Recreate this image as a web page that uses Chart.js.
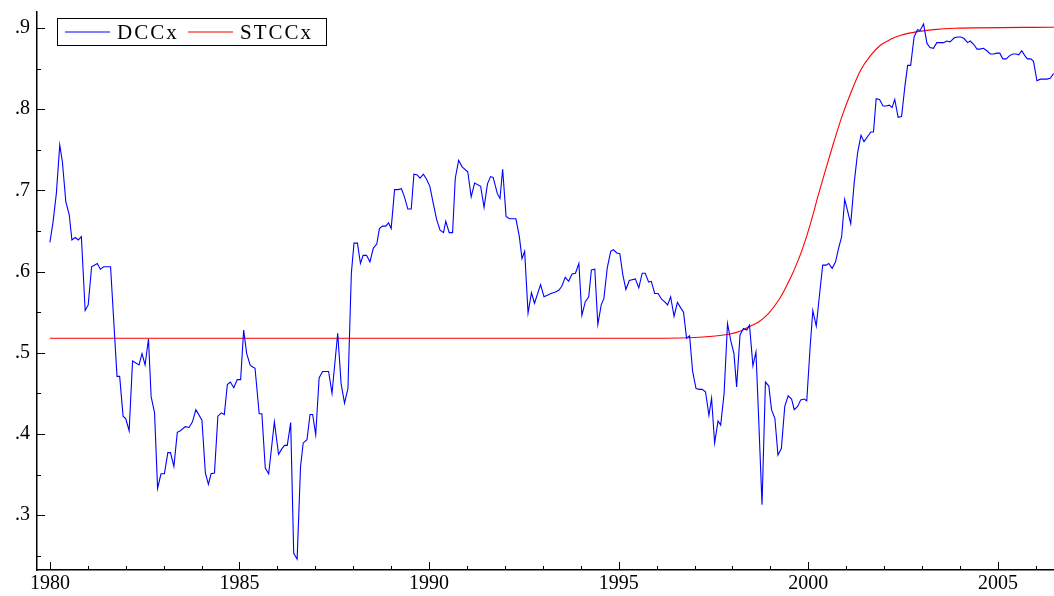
<!DOCTYPE html>
<html lang="en">
<head>
  <meta charset="UTF-8">
  <title>DCCx vs STCCx</title>
  <script src="https://cdn.jsdelivr.net/npm/chart.js@4.4.0/dist/chart.umd.min.js"></script>
  <style>
    body { margin: 0; background: #fff; }
    #wrap { width: 1054px; height: 596px; }
  </style>
</head>
<body>
  <div id="wrap"><canvas id="chart" width="1054" height="596"></canvas></div>

  <script>
    // DCCx series, monthly-ish points (decimal years)
    const dccYears = [
      1980.00, 1980.08, 1980.17, 1980.26, 1980.33, 1980.42, 1980.51, 1980.58, 1980.67, 1980.75,
      1980.83, 1980.93, 1981.01, 1981.10, 1981.25, 1981.33, 1981.42, 1981.60, 1981.77, 1981.84,
      1981.93, 1982.00, 1982.09, 1982.18, 1982.35, 1982.43, 1982.51, 1982.60, 1982.67, 1982.76,
      1982.84, 1982.93, 1983.02, 1983.11, 1983.18, 1983.27, 1983.36, 1983.44, 1983.57, 1983.67,
      1983.76, 1983.85, 1984.01, 1984.10, 1984.18, 1984.25, 1984.34, 1984.43, 1984.52, 1984.60,
      1984.68, 1984.76, 1984.85, 1984.94, 1985.03, 1985.11, 1985.19, 1985.28, 1985.33, 1985.41,
      1985.52, 1985.59, 1985.68, 1985.77, 1985.92, 1986.03, 1986.12, 1986.19, 1986.26, 1986.35,
      1986.43, 1986.52, 1986.61, 1986.68, 1986.78, 1986.86, 1986.93, 1987.01, 1987.10, 1987.19,
      1987.35, 1987.44, 1987.59, 1987.68, 1987.77, 1987.86, 1987.95, 1988.02, 1988.11, 1988.19,
      1988.26, 1988.35, 1988.44, 1988.53, 1988.62, 1988.69, 1988.77, 1988.86, 1988.93, 1989.00,
      1989.09, 1989.18, 1989.27, 1989.35, 1989.44, 1989.53, 1989.60, 1989.69, 1989.76, 1989.85,
      1989.93, 1990.02, 1990.11, 1990.20, 1990.29, 1990.38, 1990.44, 1990.53, 1990.62, 1990.69,
      1990.78, 1990.87, 1991.02, 1991.11, 1991.20, 1991.36, 1991.45, 1991.54, 1991.62, 1991.69,
      1991.80, 1991.87, 1991.94, 1992.03, 1992.12, 1992.29, 1992.38, 1992.45, 1992.52, 1992.61,
      1992.70, 1992.78, 1992.94, 1993.03, 1993.12, 1993.21, 1993.33, 1993.42, 1993.50, 1993.59,
      1993.68, 1993.77, 1993.86, 1993.95, 1994.03, 1994.12, 1994.21, 1994.28, 1994.37, 1994.45,
      1994.54, 1994.61, 1994.70, 1994.79, 1994.86, 1994.95, 1995.03, 1995.11, 1995.19, 1995.28,
      1995.44, 1995.53, 1995.62, 1995.70, 1995.79, 1995.86, 1995.95, 1996.04, 1996.13, 1996.21,
      1996.29, 1996.37, 1996.46, 1996.55, 1996.64, 1996.71, 1996.79, 1996.87, 1996.95, 1997.04,
      1997.13, 1997.20, 1997.29, 1997.38, 1997.45, 1997.53, 1997.62, 1997.69, 1997.78, 1997.87,
      1997.96, 1998.04, 1998.11, 1998.20, 1998.29, 1998.38, 1998.45, 1998.54, 1998.62, 1998.69,
      1998.78, 1998.87, 1998.96, 1999.03, 1999.12, 1999.20, 1999.29, 1999.38, 1999.47, 1999.56,
      1999.63, 1999.72, 1999.80, 1999.89, 1999.96, 2000.05, 2000.12, 2000.21, 2000.30, 2000.38,
      2000.47, 2000.54, 2000.63, 2000.72, 2000.79, 2000.88, 2000.96, 2001.12, 2001.21, 2001.30,
      2001.39, 2001.47, 2001.56, 2001.65, 2001.72, 2001.79, 2001.88, 2001.97, 2002.05, 2002.14,
      2002.21, 2002.28, 2002.37, 2002.46, 2002.55, 2002.62, 2002.70, 2002.79, 2002.88, 2002.95,
      2003.04, 2003.13, 2003.21, 2003.30, 2003.39, 2003.48, 2003.57, 2003.65, 2003.74, 2003.85,
      2003.94, 2004.02, 2004.11, 2004.20, 2004.27, 2004.36, 2004.45, 2004.53, 2004.62, 2004.71,
      2004.80, 2004.89, 2004.97, 2005.05, 2005.13, 2005.22, 2005.31, 2005.40, 2005.48, 2005.55,
      2005.63, 2005.71, 2005.78, 2005.87, 2005.94, 2006.03, 2006.12, 2006.21, 2006.29, 2006.38,
      2006.47
    ];
    const dccValues = [
      .636, .660, .696, .756, .735, .686, .670, .639, .642, .639,
      .643, .552, .559, .606, .610, .603, .606, .606, .471, .471,
      .422, .419, .404, .490, .485, .499, .485, .517, .446, .426,
      .333, .351, .351, .377, .377, .360, .402, .404, .409, .408,
      .415, .430, .417, .352, .338, .351, .352, .422, .426, .424,
      .461, .464, .457, .467, .467, .528, .499, .485, .483, .481,
      .425, .425, .358, .351, .415, .375, .382, .386, .386, .414,
      .253, .246, .360, .389, .393, .424, .424, .399, .469, .477,
      .477, .450, .524, .462, .438, .456, .598, .635, .635, .610,
      .620, .620, .612, .629, .634, .653, .656, .656, .660, .653,
      .701, .701, .702, .692, .677, .677, .720, .719, .715, .720,
      .714, .705, .684, .664, .651, .648, .662, .648, .648, .715,
      .737, .729, .723, .692, .709, .705, .679, .708, .717, .716,
      .696, .690, .726, .668, .665, .665, .643, .616, .625, .549,
      .574, .561, .584, .569, .571, .573, .575, .577, .582, .593,
      .588, .597, .598, .610, .546, .563, .569, .602, .603, .535,
      .559, .567, .605, .625, .627, .623, .622, .596, .578, .589,
      .591, .580, .598, .598, .587, .588, .573, .573, .566, .563,
      .559, .569, .545, .562, .555, .550, .518, .521, .477, .456,
      .455, .455, .452, .423, .444, .389, .416, .411, .450, .536,
      .514, .499, .458, .522, .530, .528, .534, .484, .501, .421,
      .313, .464, .459, .430, .419, .374, .382, .434, .447, .443,
      .430, .434, .442, .443, .441, .508, .552, .533, .573, .608,
      .608, .610, .604, .612, .627, .643, .689, .659, .709, .746,
      .768, .760, .766, .772, .772, .813, .812, .804, .804, .805,
      .802, .812, .790, .791, .829, .854, .854, .889, .898, .897,
      .905, .881, .876, .875, .882, .882, .882, .884, .883, .888,
      .889, .889, .887, .882, .884, .880, .874, .874, .875, .872,
      .868, .868, .869, .869, .862, .862, .866, .868, .868, .867,
      .872, .866, .862, .862, .859, .835, .837, .837, .837, .838,
      .844
    ];

    // STCCx smooth transition curve, read at its bends
    const stccYears = [
      1980.00, 1996.00, 1996.80, 1997.55, 1997.94, 1998.20, 1998.43, 1998.69, 1998.96, 1999.22,
      1999.39, 1999.57, 1999.75, 1999.84, 2000.07, 2000.25, 2000.46, 2000.67, 2000.88, 2001.12,
      2001.38, 2001.64, 2001.91, 2002.17, 2002.44, 2002.88, 2003.31, 2003.87, 2006.50
    ];
    const stccValues = [
      .518, .518, .5185, .5207, .5232, .5265, .532, .538, .549, .565,
      .579, .596, .616, .627, .661, .692, .726, .759, .790, .820,
      .848, .866, .879, .886, .891, .8955, .898, .8996, .901
    ];

    const xTicks = [1980, 1985, 1990, 1995, 2000, 2005];
    const yTicks = [.3, .4, .5, .6, .7, .8, .9];

    const serif = "'Liberation Serif', 'Times New Roman', serif";

    // inward tick marks like the original, plus the boxed legend
    const frame = {
      id: 'frame',
      afterDraw(chart) {
        const ctx = chart.ctx;
        const xs = chart.scales.x, ys = chart.scales.y;
        const left = chart.chartArea.left, bottom = chart.chartArea.bottom;
        ctx.save();
        ctx.strokeStyle = '#000';
        ctx.lineWidth = 1;
        for (let yr = 1980; yr <= 2006; yr++) {
          const px = Math.round(xs.getPixelForValue(yr)) + 0.5;
          const len = yr % 5 === 0 ? 8 : 4;
          ctx.beginPath(); ctx.moveTo(px, bottom); ctx.lineTo(px, bottom - len); ctx.stroke();
        }
        for (let k = 0; k * 0.05 + 0.25 <= ys.max; k++) {
          const v = k * 0.05 + 0.25;
          if (v < ys.min) continue;
          const py = Math.round(ys.getPixelForValue(v)) + 0.5;
          const len = k % 2 === 1 ? 8 : 4;
          ctx.beginPath(); ctx.moveTo(left, py); ctx.lineTo(left + len, py); ctx.stroke();
        }

        // legend box
        ctx.fillStyle = '#fff';
        ctx.fillRect(57.5, 18.5, 269, 27);
        ctx.strokeRect(57.5, 18.5, 269, 27);
        ctx.font = '21px ' + serif;
        ctx.letterSpacing = '2px';
        ctx.textBaseline = 'middle';
        const itemX = [65, 188];
        chart.data.datasets.forEach((ds, i) => {
          const x = itemX[i];
          ctx.strokeStyle = ds.borderColor;
          ctx.lineWidth = 1.2;
          ctx.beginPath(); ctx.moveTo(x, 32); ctx.lineTo(x + 45, 32); ctx.stroke();
          ctx.fillStyle = '#000';
          ctx.fillText(ds.label, x + 52, 33);
        });
        ctx.restore();
      }
    };

    const pts = (xsArr, ysArr) => xsArr.map((x, i) => ({ x, y: ysArr[i] }));
    const noPad = s => { s.paddingTop = 0; s.paddingBottom = 0; s.paddingLeft = 0; s.paddingRight = 0; };

    new Chart(document.getElementById('chart').getContext('2d'), {
      type: 'line',
      data: {
        datasets: [
          { label: 'DCCx', data: pts(dccYears, dccValues), borderColor: '#0000ff', borderWidth: 1.1, pointRadius: 0, tension: 0 },
          { label: 'STCCx', data: pts(stccYears, stccValues), borderColor: '#ff0000', borderWidth: 1.1, pointRadius: 0, cubicInterpolationMode: 'monotone' }
        ]
      },
      options: {
        responsive: false,
        animation: false,
        layout: { padding: { top: 12, right: 0, left: 0, bottom: 0 } },
        scales: {
          x: {
            type: 'linear', min: 1979.66, max: 2006.48,
            grid: { drawOnChartArea: false, drawTicks: false },
            border: { color: '#000', width: 1.5 },
            ticks: { color: '#000', font: { family: serif, size: 20 }, padding: 2, maxRotation: 0, callback: v => String(v) },
            afterBuildTicks: s => { s.ticks = xTicks.map(v => ({ value: v })); },
            afterFit: s => { s.height = 26; noPad(s); }
          },
          y: {
            type: 'linear', min: 0.2325, max: 0.9197,
            grid: { drawOnChartArea: false, drawTicks: false },
            border: { color: '#000', width: 1.5 },
            ticks: { color: '#000', font: { family: serif, size: 20 }, padding: 7, callback: v => v.toFixed(1).replace(/^0/, '') },
            afterBuildTicks: s => { s.ticks = yTicks.map(v => ({ value: v })); },
            afterFit: s => { s.width = 37; noPad(s); }
          }
        },
        plugins: { legend: { display: false }, tooltip: { enabled: false } }
      },
      plugins: [frame]
    });
  </script>
</body>
</html>
